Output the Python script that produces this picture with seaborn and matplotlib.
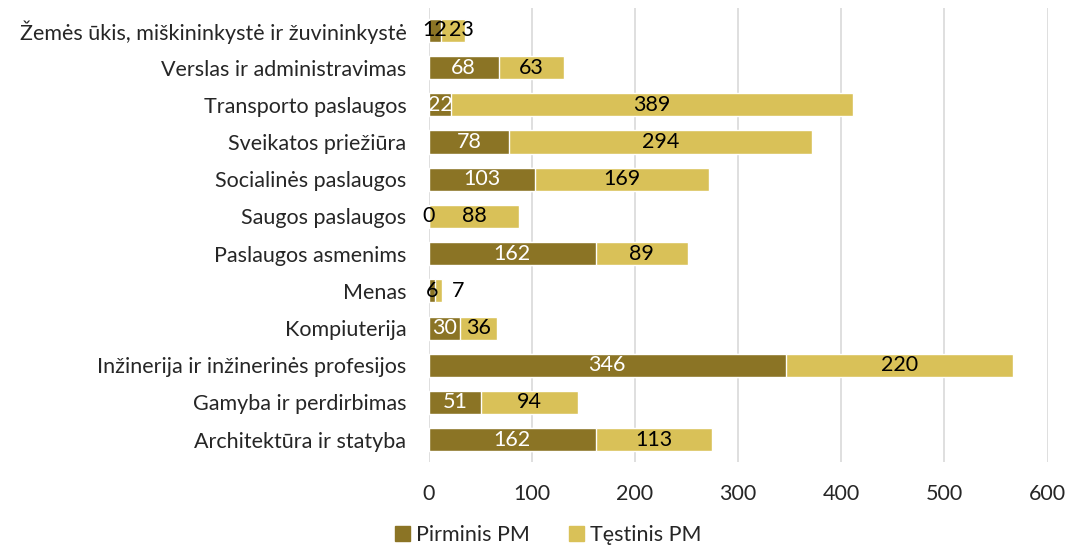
import matplotlib
matplotlib.use("Agg")
import matplotlib.pyplot as plt
import seaborn as sns
import pandas as pd
from matplotlib.patches import Patch

categories = [
    "Žemės ūkis, miškininkystė ir žuvininkystė",
    "Verslas ir administravimas",
    "Transporto paslaugos",
    "Sveikatos priežiūra",
    "Socialinės paslaugos",
    "Saugos paslaugos",
    "Paslaugos asmenims",
    "Menas",
    "Kompiuterija",
    "Inžinerija ir inžinerinės profesijos",
    "Gamyba ir perdirbimas",
    "Architektūra ir statyba",
]
pirminis = [12, 68, 22, 78, 103, 0, 162, 6, 30, 346, 51, 162]
testinis = [23, 63, 389, 294, 169, 88, 89, 7, 36, 220, 94, 113]
series_names = ["Pirminis PM", "Tęstinis PM"]
xticks = [0, 100, 200, 300, 400, 500, 600]

dark = "#8B7425"
light = "#D9C158"

sns.set_theme(style="white")
plt.rcParams["font.family"] = ["Lato", "DejaVu Sans"]

df = pd.DataFrame({"cat": categories, "p": pirminis, "t": testinis})
df["total"] = df["p"] + df["t"]

fig = plt.figure(figsize=(10.69, 5.52), dpi=100)
ax = fig.add_axes([0.401, 0.163, 0.579, 0.8225])

sns.barplot(data=df, y="cat", x="total", color=light, saturation=1, width=0.62, ax=ax, orient="h")
sns.barplot(data=df, y="cat", x="p", color=dark, saturation=1, width=0.62, ax=ax, orient="h")

fs = 15.5
for i, (p, t) in enumerate(zip(pirminis, testinis)):
    ax.text(p / 2, i, str(p), ha="center", va="center", fontsize=fs,
            color="white" if p >= 20 else "black")
    tx = max(p + t / 2, p / 2 + 26)
    ax.text(tx, i, str(t), ha="center", va="center", fontsize=fs, color="black")

ax.set_xlim(0, 600)
ax.set_ylim(11.6, -0.6)
ax.set_xticks(xticks)
ax.set_xticklabels([str(v) for v in xticks], fontsize=fs)
ax.tick_params(axis="x", length=0, pad=16)
ax.tick_params(axis="y", length=0, pad=16, labelsize=fs)
ax.set_xlabel("")
ax.set_ylabel("")
ax.grid(axis="x", color="#D9D9D9", linewidth=1.2)
ax.set_axisbelow(True)
for s in ax.spines.values():
    s.set_visible(False)

handles = [Patch(color=dark, label=series_names[0]), Patch(color=light, label=series_names[1])]
fig.legend(handles=handles, loc="lower center", ncol=2, frameon=False, fontsize=fs,
           bbox_to_anchor=(0.513, -0.022), handlelength=0.7, handleheight=0.7,
           handletextpad=0.3, columnspacing=1.8)

fig.savefig("out.png", dpi=100)
